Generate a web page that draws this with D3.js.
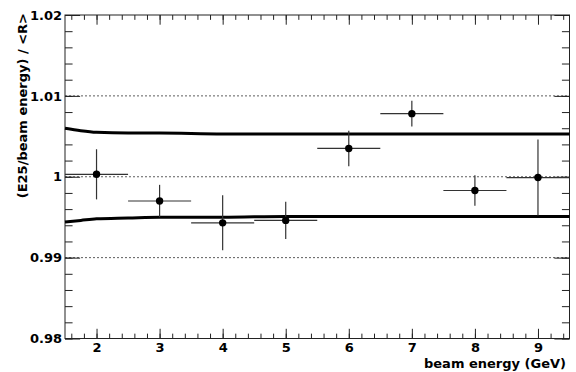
<!DOCTYPE html>
<html>
<head>
<meta charset="utf-8">
<script src="https://cdn.jsdelivr.net/npm/d3@7"></script>
<style>
  html, body { margin: 0; padding: 0; background: #fff; }
  svg text { font-family: "DejaVu Sans", "Liberation Sans", Arial, sans-serif; font-weight: bold; }
</style>
</head>
<body>
<div id="chart"></div>
<script>
// measured points
const energies = [2, 3, 4, 5, 6, 7, 8, 9];
const energyErr = [0.5, 0.5, 0.5, 0.5, 0.5, 0.5, 0.5, 0.5];
const ratio = [1.0003, 0.9970, 0.9943, 0.9946, 1.0035, 1.0078, 0.9983, 0.9999];
const ratioErr = [0.0031, 0.0020, 0.0034, 0.0023, 0.0022, 0.0016, 0.0019, 0.0047];

// systematic band (upper / lower curves)
const bandEnergy = [1.5, 1.75, 2, 2.5, 3, 4, 5, 6, 7, 8, 9, 9.5];
const bandUpper = [1.0060, 1.0057, 1.0055, 1.0054, 1.0054, 1.0053, 1.0053, 1.0053, 1.0053, 1.0053, 1.0053, 1.0053];
const bandLower = [0.9944, 0.9946, 0.9948, 0.9949, 0.9950, 0.9950, 0.9951, 0.9951, 0.9951, 0.9951, 0.9951, 0.9951];

// axes
const xTickValues = [2, 3, 4, 5, 6, 7, 8, 9];
const yTickValues = [0.98, 0.99, 1, 1.01, 1.02];
const yTickLabels = ['0.98', '0.99', '1', '1.01', '1.02'];
const gridValues = [0.99, 1, 1.01];

const W = 576, H = 372;
const margin = { top: 15, right: 6.5, bottom: 33.5, left: 65 };
const width = W - margin.left - margin.right;
const height = H - margin.top - margin.bottom;

const svg = d3.select('#chart').append('svg')
  .attr('width', W)
  .attr('height', H);

const g = svg.append('g')
  .attr('transform', 'translate(' + margin.left + ',' + margin.top + ')');

const x = d3.scaleLinear().domain([1.5, 9.5]).range([0, width]);
const y = d3.scaleLinear().domain([0.98, 1.02]).range([height, 0]);

const majY = 0.03 * width;   // ROOT style tick length
const majX = 0.03 * height;

// dotted grid lines
g.selectAll('.grid')
  .data(gridValues)
  .enter().append('line')
  .attr('x1', 0).attr('x2', width)
  .attr('y1', d => y(d)).attr('y2', d => y(d))
  .attr('stroke', '#333')
  .attr('stroke-width', 0.8)
  .attr('stroke-dasharray', '2,2');

// axes
const fontSize = 13;
function styleAxis(sel) {
  sel.select('.domain').remove();
  sel.selectAll('line').attr('stroke', '#222').attr('stroke-width', 1);
  sel.selectAll('text').attr('fill', '#000').style('font-size', fontSize + 'px');
}

const yLabel = d3.scaleOrdinal().domain(yTickValues).range(yTickLabels);

g.append('g')
  .call(d3.axisLeft(y).tickValues(yTickValues).tickFormat(d => yLabel(d))
    .tickSizeInner(-majY).tickSizeOuter(0).tickPadding(3))
  .call(styleAxis);
g.append('g')
  .call(d3.axisLeft(y).ticks(20).tickFormat('').tickSizeInner(-majY / 2).tickSizeOuter(0))
  .call(styleAxis);
g.append('g')
  .attr('transform', 'translate(' + width + ',0)')
  .call(d3.axisRight(y).tickValues(yTickValues).tickFormat('').tickSizeInner(-majY).tickSizeOuter(0))
  .call(styleAxis);
g.append('g')
  .attr('transform', 'translate(' + width + ',0)')
  .call(d3.axisRight(y).ticks(20).tickFormat('').tickSizeInner(-majY / 2).tickSizeOuter(0))
  .call(styleAxis);

g.append('g')
  .attr('transform', 'translate(0,' + height + ')')
  .call(d3.axisBottom(x).tickValues(xTickValues).tickFormat(d3.format('d'))
    .tickSizeInner(-majX).tickSizeOuter(0).tickPadding(4))
  .call(styleAxis);
g.append('g')
  .attr('transform', 'translate(0,' + height + ')')
  .call(d3.axisBottom(x).ticks(40).tickFormat('').tickSizeInner(-majX / 2).tickSizeOuter(0))
  .call(styleAxis);
g.append('g')
  .call(d3.axisTop(x).tickValues(xTickValues).tickFormat('').tickSizeInner(-majX).tickSizeOuter(0))
  .call(styleAxis);
g.append('g')
  .call(d3.axisTop(x).ticks(40).tickFormat('').tickSizeInner(-majX / 2).tickSizeOuter(0))
  .call(styleAxis);

// frame
g.append('rect')
  .attr('width', width).attr('height', height)
  .attr('fill', 'none')
  .attr('stroke', '#222')
  .attr('stroke-width', 1);

// band curves
const band = d3.line()
  .x(d => x(d[0]))
  .y(d => y(d[1]))
  .curve(d3.curveMonotoneX);

[bandUpper, bandLower].forEach(vals => {
  g.append('path')
    .datum(bandEnergy.map((e, i) => [e, vals[i]]))
    .attr('d', band)
    .attr('fill', 'none')
    .attr('stroke', '#000')
    .attr('stroke-width', 3);
});

// error bars + markers
const pts = energies.map((e, i) => ({ e, ex: energyErr[i], r: ratio[i], er: ratioErr[i] }));

g.selectAll('.ex')
  .data(pts)
  .enter().append('line')
  .attr('x1', d => x(d.e - d.ex)).attr('x2', d => x(d.e + d.ex))
  .attr('y1', d => y(d.r)).attr('y2', d => y(d.r))
  .attr('stroke', '#333').attr('stroke-width', 1.2);

g.selectAll('.ey')
  .data(pts)
  .enter().append('line')
  .attr('x1', d => x(d.e)).attr('x2', d => x(d.e))
  .attr('y1', d => y(d.r - d.er)).attr('y2', d => y(d.r + d.er))
  .attr('stroke', '#333').attr('stroke-width', 1.2);

g.selectAll('circle')
  .data(pts)
  .enter().append('circle')
  .attr('cx', d => x(d.e))
  .attr('cy', d => y(d.r))
  .attr('r', 3.7)
  .attr('fill', '#000');

// axis titles
svg.append('text')
  .attr('x', 566)
  .attr('y', 367.5)
  .style('text-anchor', 'end')
  .style('font-size', fontSize + 'px')
  .text('beam energy (GeV)');

svg.append('text')
  .attr('transform', 'rotate(-90)')
  .attr('x', -13)
  .attr('y', 27)
  .style('text-anchor', 'end')
  .style('font-size', fontSize + 'px')
  .text('(E25/beam energy) / <R>');
</script>
</body>
</html>
